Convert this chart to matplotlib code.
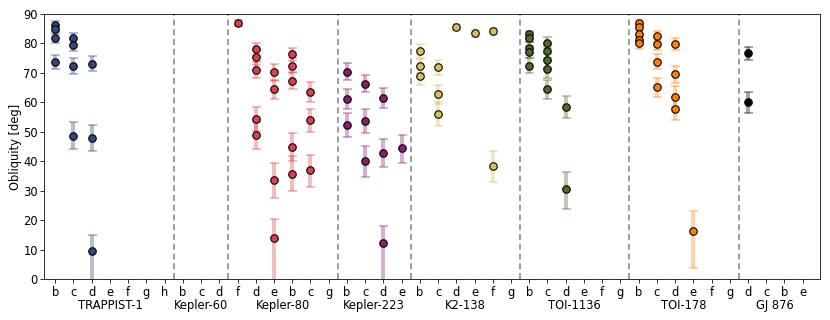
import matplotlib
matplotlib.use("Agg")
import matplotlib.pyplot as plt
import numpy as np

# ---- categories ----
systems = ['TRAPPIST-1', 'Kepler-60', 'Kepler-80', 'Kepler-223', 'K2-138', 'TOI-1136', 'TOI-178', 'GJ 876']
system_planets = [
    ['b', 'c', 'd', 'e', 'f', 'g', 'h'],
    ['b', 'c', 'd'],
    ['f', 'd', 'e', 'b', 'c', 'g'],
    ['b', 'c', 'd', 'e'],
    ['b', 'c', 'd', 'e', 'f', 'g'],
    ['b', 'c', 'd', 'e', 'f', 'g'],
    ['b', 'c', 'd', 'e', 'f', 'g'],
    ['d', 'c', 'b', 'e'],
]
system_colors = ['#33477a', '#ffffff', '#d8434f', '#8a1f6e', '#d6bf63', '#4f6a28', '#ff7f0e', '#000000']

# ---- data: planet letter, obliquity, lower error, upper error ----
trappist_planet = ['b', 'b', 'b', 'b', 'c', 'c', 'c', 'c', 'd', 'd', 'd']
trappist_obl = [86.3, 84.8, 82.0, 73.7, 81.7, 79.4, 72.5, 48.7, 73.2, 48.0, 9.7]
trappist_lo = [1.2, 1.5, 1.8, 2.5, 2.0, 2.0, 2.7, 4.5, 2.5, 4.4, 12.0]
trappist_hi = [1.2, 1.5, 1.8, 2.5, 2.0, 2.0, 2.7, 4.5, 2.6, 4.3, 5.4]

kepler60_planet = []
kepler60_obl = []
kepler60_lo = []
kepler60_hi = []

kepler80_planet = ['f', 'd', 'd', 'd', 'd', 'd', 'e', 'e', 'e', 'e', 'b', 'b', 'b', 'b', 'b', 'c', 'c', 'c']
kepler80_obl = [86.8, 78.0, 75.3, 71.0, 54.4, 48.8, 70.2, 64.4, 33.7, 14.0, 76.3, 72.5, 67.4, 44.9, 35.8, 63.6, 53.9, 37.0]
kepler80_lo = [1.0, 2.3, 2.5, 2.8, 4.0, 4.6, 2.8, 3.2, 6.0, 16.0, 2.3, 2.5, 2.8, 4.6, 6.0, 3.3, 4.0, 5.7]
kepler80_hi = [1.0, 2.3, 2.5, 2.8, 4.0, 4.6, 2.8, 3.2, 5.6, 6.4, 2.3, 2.5, 2.8, 4.6, 6.0, 3.3, 4.0, 5.3]

kepler223_planet = ['b', 'b', 'b', 'c', 'c', 'c', 'd', 'd', 'd', 'e']
kepler223_obl = [70.4, 61.3, 52.3, 66.4, 53.8, 40.1, 61.5, 42.8, 12.2, 44.5]
kepler223_lo = [2.9, 3.4, 4.1, 3.0, 4.0, 5.5, 3.4, 4.7, 14.0, 5.0]
kepler223_hi = [2.9, 3.4, 4.0, 3.0, 4.0, 5.1, 3.4, 4.7, 5.9, 4.6]

k2138_planet = ['b', 'b', 'b', 'c', 'c', 'c', 'd', 'e', 'f', 'f']
k2138_obl = [77.4, 72.4, 69.0, 71.9, 62.8, 56.0, 85.6, 83.4, 84.2, 38.4]
k2138_lo = [2.3, 2.5, 3.2, 2.5, 3.3, 4.0, 0.9, 1.2, 1.2, 5.5]
k2138_hi = [2.3, 2.5, 3.2, 2.5, 3.2, 4.0, 0.9, 1.2, 1.2, 5.0]

toi1136_planet = ['b', 'b', 'b', 'b', 'b', 'c', 'c', 'c', 'c', 'c', 'd', 'd']
toi1136_obl = [83.1, 82.0, 78.6, 77.2, 72.5, 80.3, 77.3, 74.3, 71.2, 64.4, 58.5, 30.7]
toi1136_lo = [1.2, 1.5, 1.8, 2.0, 2.6, 2.0, 2.3, 2.6, 2.8, 3.3, 3.9, 7.0]
toi1136_hi = [1.2, 1.5, 1.8, 2.0, 2.6, 2.0, 2.3, 2.6, 2.8, 3.3, 3.7, 5.7]

toi178_planet = ['b', 'b', 'b', 'b', 'b', 'c', 'c', 'c', 'c', 'd', 'd', 'd', 'd', 'e']
toi178_obl = [86.8, 85.7, 83.3, 81.2, 80.3, 82.5, 79.9, 73.8, 65.1, 79.7, 69.6, 61.9, 57.8, 16.4]
toi178_lo = [1.0, 1.2, 1.5, 1.8, 2.2, 1.7, 2.0, 2.5, 3.4, 2.0, 2.9, 3.6, 3.9, 12.7]
toi178_hi = [1.0, 1.2, 1.5, 1.8, 2.2, 1.7, 2.0, 2.5, 3.2, 2.0, 2.9, 3.6, 3.9, 6.8]

gj876_planet = ['d', 'd']
gj876_obl = [76.7, 60.1]
gj876_lo = [2.3, 3.8]
gj876_hi = [2.2, 3.5]

all_data = [
    (trappist_planet, trappist_obl, trappist_lo, trappist_hi),
    (kepler60_planet, kepler60_obl, kepler60_lo, kepler60_hi),
    (kepler80_planet, kepler80_obl, kepler80_lo, kepler80_hi),
    (kepler223_planet, kepler223_obl, kepler223_lo, kepler223_hi),
    (k2138_planet, k2138_obl, k2138_lo, k2138_hi),
    (toi1136_planet, toi1136_obl, toi1136_lo, toi1136_hi),
    (toi178_planet, toi178_obl, toi178_lo, toi178_hi),
    (gj876_planet, gj876_obl, gj876_lo, gj876_hi),
]

# ---- figure ----
plt.rcParams['font.size'] = 11.5
DPI = 72
fig = plt.figure(figsize=(830 / DPI, 320 / DPI), dpi=DPI)
ax = fig.add_axes([44.3 / 830, 1 - 279.3 / 320, (820 - 44.3) / 830, (279.3 - 14) / 320])

tick_labels = []
offset = 0
group_centers = []
boundaries = []
for si, (planets, data) in enumerate(zip(system_planets, all_data)):
    p_names, obl, lo, hi = data
    color = system_colors[si]
    xs = [offset + planets.index(p) for p in p_names]
    if len(xs):
        ax.errorbar(xs, obl, yerr=[lo, hi], fmt='none', ecolor=color, alpha=0.35,
                    elinewidth=4, capsize=4.5, capthick=2, zorder=2)
        ax.plot(xs, obl, 'o', color=color, markeredgecolor='black',
                markeredgewidth=1.1, markersize=7.5, zorder=3, linestyle='none')
    tick_labels += planets
    group_centers.append(offset + (len(planets) - 1) / 2)
    offset += len(planets)
    boundaries.append(offset - 0.5)

for b in boundaries[:-1]:
    ax.axvline(b, color='grey', linestyle='--', linewidth=1.5, dashes=(4, 2.5), zorder=1)

ax.set_xticks(np.arange(len(tick_labels)))
ax.set_xticklabels(tick_labels)
ax.tick_params(length=4, pad=2.5)
ax.set_xlim(-0.6, 41.95)
ax.set_ylim(0, 90)
ax.set_yticks(np.arange(0, 91, 10))
ax.set_ylabel('Obliquity [deg]', labelpad=1.5)

for c, name in zip(group_centers, systems):
    ax.annotate(name, xy=(c, 0), xycoords=('data', 'axes fraction'),
                xytext=(0, -19.5), textcoords='offset points', ha='center', va='top')

fig.savefig('out.png', dpi=DPI)
